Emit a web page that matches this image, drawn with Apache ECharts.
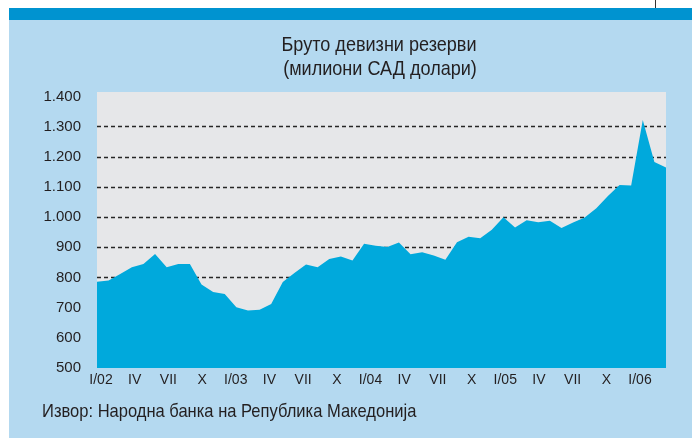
<!DOCTYPE html>
<html><head><meta charset="utf-8">
<script src="https://cdn.jsdelivr.net/npm/echarts@6/dist/echarts.min.js"></script>
<style>html,body{margin:0;padding:0;background:#fff}#c{width:692px;height:438px}</style>
</head><body><div id="c"></div>
<script>
const months = ["I/02","II/02","III/02","IV/02","V/02","VI/02","VII/02","VIII/02","IX/02","X/02","XI/02","XII/02",
"I/03","II/03","III/03","IV/03","V/03","VI/03","VII/03","VIII/03","IX/03","X/03","XI/03","XII/03",
"I/04","II/04","III/04","IV/04","V/04","VI/04","VII/04","VIII/04","IX/04","X/04","XI/04","XII/04",
"I/05","II/05","III/05","IV/05","V/05","VI/05","VII/05","VIII/05","IX/05","X/05","XI/05","XII/05",
"I/06","II/06"];
const reserves = [786, 790, 812, 834, 845, 878, 834, 845, 845, 777, 752, 745,
701, 691, 693, 712, 785, 815, 843, 834, 861, 870, 856, 912,
905, 901, 916, 877, 884, 873, 859, 917, 935, 930, 958, 1000,
966, 990, 983, 988, 964, 982, 999, 1030, 1070, 1107, 1105, 1322,
1183, 1165];
const tickLabels = ["I/02","IV","VII","X","I/03","IV","VII","X","I/04","IV","VII","X","I/05","IV","VII","X","I/06"];
const gridValues = [800, 900, 1000, 1100, 1200, 1300];
const titleLines = ["Бруто девизни резерви", "(милиони САД долари)"];
const sourceText = "Извор: Народна банка на Република Македонија";

const FONT = "'Liberation Sans Narrow','Arial Narrow','Liberation Sans',Arial,sans-serif";
const chart = echarts.init(document.getElementById('c'), null, {renderer: 'canvas'});
chart.setOption({
  animation: false,
  backgroundColor: '#ffffff',
  graphic: [
    {type: 'rect', z: -10, shape: {x: 9, y: 20, width: 683, height: 418}, style: {fill: '#b4d9f0'}},
    {type: 'rect', z: -10, shape: {x: 9, y: 8, width: 683, height: 12}, style: {fill: '#0093d0'}},
    {type: 'line', z: -10, shape: {x1: 655.5, y1: 0, x2: 655.5, y2: 8}, style: {stroke: '#333', lineWidth: 1}},
    {type: 'text', z: 10, x: 379, y: 45, scaleX: 0.86, style: {text: titleLines[0], font: "21px " + FONT, fill: '#231f20', textAlign: 'center', textVerticalAlign: 'middle'}},
    {type: 'text', z: 10, x: 380, y: 69, scaleX: 0.86, style: {text: titleLines[1], font: "21px " + FONT, fill: '#231f20', textAlign: 'center', textVerticalAlign: 'middle'}},
    {type: 'text', z: 10, x: 42, y: 412, scaleX: 0.87, style: {text: sourceText, font: "19px " + FONT, fill: '#231f20', textAlign: 'left', textVerticalAlign: 'middle'}}
  ],
  grid: [
    {left: 97, right: 26, top: 92, bottom: 70, show: true, backgroundColor: '#e6e7e9', borderWidth: 0},
    {left: 101, right: 52, top: 92, bottom: 70, show: false}
  ],
  xAxis: [
    {type: 'category', gridIndex: 0, data: months, boundaryGap: false,
     axisLine: {show: false}, axisTick: {show: false}, axisLabel: {show: false}, splitLine: {show: false}},
    {type: 'category', gridIndex: 1, data: tickLabels.map((t, i) => i), boundaryGap: false,
     axisLine: {show: false}, axisTick: {show: false}, splitLine: {show: false},
     axisLabel: {interval: 0, margin: 5, color: '#231f20', fontSize: 14, fontFamily: FONT,
       formatter: (v, i) => tickLabels[i]}}
  ],
  yAxis: [
    {type: 'value', gridIndex: 0, min: 500, max: 1415, interval: 100,
     axisLine: {show: false}, axisTick: {show: false}, splitLine: {show: false},
     axisLabel: {margin: 16, color: '#231f20', fontSize: 15, fontFamily: FONT,
       formatter: v => (v % 100 === 0 ? v.toLocaleString('de-DE') : '')}},
    {type: 'value', gridIndex: 1, min: 0, max: 1, show: false}
  ],
  series: [
    {type: 'line', name: 'grid', xAxisIndex: 0, yAxisIndex: 0, z: 1, data: [], symbol: 'none',
     silent: true,
     markLine: {z: 1, silent: true, symbol: 'none', label: {show: false},
       lineStyle: {color: '#262626', type: [4, 3], width: 1.4},
       emphasis: {disabled: true},
       data: gridValues.map(v => ({yAxis: v}))}},
    {type: 'line', name: 'reserves', xAxisIndex: 0, yAxisIndex: 0, z: 5, data: reserves,
     symbol: 'none', lineStyle: {width: 0}, areaStyle: {color: '#00a9dc', opacity: 1}}
  ]
});
</script></body></html>
